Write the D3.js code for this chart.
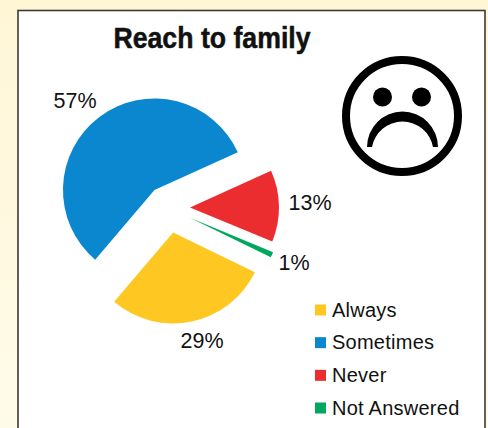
<!DOCTYPE html>
<html>
<head>
<meta charset="utf-8">
<style>
  html, body { margin: 0; padding: 0; background: #fff9de; }
  svg { display: block; }
  text { fill: #111; font-family: "Liberation Sans", Arial, sans-serif; }
</style>
<script src="https://cdnjs.cloudflare.com/ajax/libs/d3/7.8.5/d3.min.js"></script>
</head>
<body>
<svg id="chart" width="488" height="428"></svg>
<script>
const categories = ["Always", "Sometimes", "Never", "Not Answered"];
const shares = [29, 57, 13, 1];
const sliceColors = ["#ffc721", "#0a87ce", "#ec2d30", "#00a75e"];
const chartTitle = "Reach to family";

const svg = d3.select("#chart");
const defs = svg.append("defs");

// Cream page behind the white panel, paler towards the bottom.
const paper = defs.append("linearGradient").attr("id", "paper")
  .attr("x1", 0).attr("y1", 0).attr("x2", 0).attr("y2", 1);
paper.append("stop").attr("offset", 0).attr("stop-color", "#fff6d6");
paper.append("stop").attr("offset", 1).attr("stop-color", "#fffbe9");
svg.append("rect").attr("width", 488).attr("height", 428).attr("fill", "url(#paper)");

// Panel with its dark outline; it runs off the bottom edge.
svg.append("rect")
  .attr("x", 18).attr("y", 10.5).attr("width", 467).attr("height", 430)
  .attr("fill", "#fff").attr("stroke", "#3d3a33").attr("stroke-width", 1.6);

// Condensed bold heading: the regular bold face squeezed horizontally.
svg.append("text")
  .attr("transform", "translate(212,48) scale(0.92,1)")
  .attr("text-anchor", "middle")
  .attr("stroke", "#111").attr("stroke-width", 0.5)
  .style("font-weight", 700).style("font-size", "29px")
  .text(chartTitle);

// Exploded pie: every slice slides away from the hub by its own distance.
const hub = { x: 168, y: 208 };
const explode = d3.scaleOrdinal().domain(categories).range([25, 22.5, 22, 24]);
const sliceRadius = d3.scaleOrdinal().domain(categories).range([91, 91.5, 89, 90]);
const color = d3.scaleOrdinal().domain(categories).range(sliceColors);

const toRad = Math.PI / 180;
const pie = d3.pie().sort(null).value(d => d.share)
  .startAngle(116 * toRad).endAngle(476 * toRad);
const arc = d3.arc().innerRadius(0).outerRadius(d => sliceRadius(d.data.name));

const slices = pie(categories.map((name, i) => ({ name, share: shares[i] })));

const pieG = svg.append("g").attr("transform", `translate(${hub.x},${hub.y})`);
pieG.selectAll("path").data(slices).join("path")
  .attr("d", arc)
  .attr("fill", d => color(d.data.name))
  .attr("transform", d => {
    const mid = (d.startAngle + d.endAngle) / 2;
    const r = explode(d.data.name);
    return `translate(${r * Math.sin(mid)},${-r * Math.cos(mid)})`;
  });

// Percentage labels beside their slices.
const labelAnchor = d3.scaleOrdinal().domain(categories)
  .range([[202, 348], [75, 108], [310, 210], [294, 270]]);
svg.append("g").selectAll("text").data(slices).join("text")
  .attr("x", d => labelAnchor(d.data.name)[0])
  .attr("y", d => labelAnchor(d.data.name)[1])
  .attr("text-anchor", "middle")
  .style("font-size", "21.5px")
  .text(d => `${d.data.share}%`);

// Legend rows.
const rowY = d3.scalePoint().domain(categories).range([310, 408]);
const legend = svg.append("g").selectAll("g").data(categories).join("g")
  .attr("transform", d => `translate(315,${rowY(d)})`);
legend.append("rect")
  .attr("x", 0).attr("y", -5.5).attr("width", 11).attr("height", 11)
  .attr("fill", d => color(d));
legend.append("text")
  .attr("x", 17).attr("y", 6.5)
  .style("font-size", "20px").style("letter-spacing", "0.25px")
  .text(d => d);

// Frowning face beside the title.
const face = svg.append("g").attr("transform", "translate(402,116)");
face.append("circle").attr("r", 56).attr("fill", "none")
  .attr("stroke", "#000").attr("stroke-width", 8);
face.selectAll("circle.eye").data([-19.5, 19.5]).join("circle")
  .attr("class", "eye").attr("cx", d => d).attr("cy", -19).attr("r", 9.5).attr("fill", "#000");
face.append("path").attr("fill", "#000")
  .attr("d", "M-35,31 A35.5,35.5 0 0 1 36,31 L31,31 A31,31 0 0 0 -30,31 Z");
</script>
</body>
</html>
